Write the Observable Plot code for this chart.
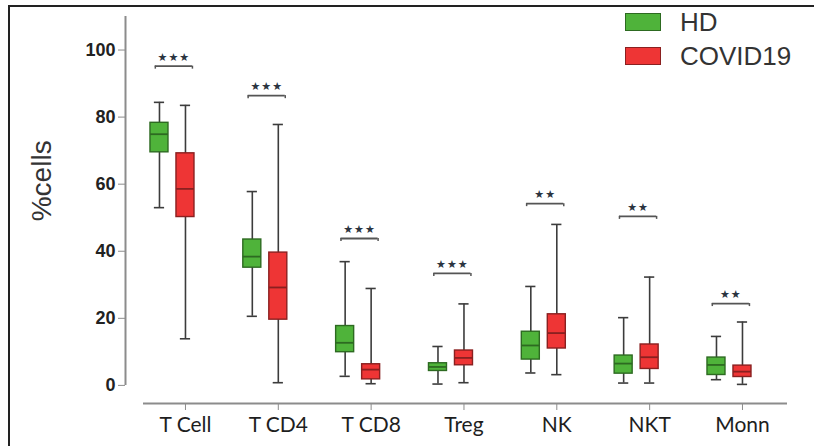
<!DOCTYPE html>
<html>
<head>
<meta charset="utf-8">
<script src="https://cdn.jsdelivr.net/npm/d3@7"></script>
<script src="https://cdn.jsdelivr.net/npm/@observablehq/plot@0.6"></script>
<style>
  html, body { margin: 0; padding: 0; background: #fff; overflow: hidden; }
  #wrap { position: relative; width: 814px; height: 446px; }
  #frame { position: absolute; left: 8px; top: 5px; width: 830px; height: 470px;
           border-top: 2px solid #222; border-left: 2px solid #222; pointer-events: none; }
  #legend { position: absolute; left: 625px; top: 5px; font-family: "Liberation Sans", Arial, sans-serif;
            font-size: 26px; color: #333; }
  .row { display: flex; align-items: center; height: 34px; }
  .sw { width: 34px; height: 16px; margin-right: 19px; }
</style>
</head>
<body>
<div id="wrap">
  <div id="chart"></div>
  <div id="frame"></div>
  <div id="legend"></div>
</div>
<script>
// ---- data ----
const categories = ["T Cell", "T CD4", "T CD8", "Treg", "NK", "NKT", "Monn"];
const groups = ["HD", "COVID19"];
const hdMin = [53.0, 20.6, 2.7, 0.4, 3.7, 0.7, 1.7];
const hdQ1  = [69.5, 35.1, 9.9, 4.3, 7.7, 3.5, 3.1];
const hdMed = [74.9, 38.4, 12.7, 5.5, 11.9, 6.5, 6.1];
const hdQ3  = [78.3, 43.5, 17.7, 6.6, 16.0, 8.9, 8.3];
const hdMax = [84.4, 57.8, 36.9, 11.6, 29.5, 20.2, 14.6];
const covMin = [13.9, 0.8, 0.5, 0.8, 3.2, 0.7, 0.3];
const covQ1  = [50.2, 19.6, 1.8, 6.0, 11.0, 4.9, 2.5];
const covMed = [58.6, 29.2, 4.7, 8.2, 15.6, 8.4, 4.1];
const covQ3  = [69.2, 39.6, 6.3, 10.4, 21.2, 12.2, 5.9];
const covMax = [83.5, 77.8, 28.9, 24.3, 48.0, 32.3, 18.9];
const significance = ["***", "***", "***", "***", "**", "**", "**"];
const bracketY = [95.2, 86.4, 43.8, 33.4, 54.2, 50.4, 24.4];
const yTicks = [0, 20, 40, 60, 80, 100];
const yTitle = "%cells";

// ---- styles / layout ----
const fills = {HD: "#4fb33a", COVID19: "#ee3535"};
const strokes = {HD: "#2d6a21", COVID19: "#8a2020"};
const offset = {HD: -0.28, COVID19: 0};
const halfBox = 0.097, halfCap = 0.055;
const xDomain = [-0.646, 6.485];
const yDomain = [-5.4, 110];

const rows = [];
categories.forEach((c, i) => {
  rows.push({cat: c, group: "HD", pos: i + offset.HD, min: hdMin[i], q1: hdQ1[i], med: hdMed[i], q3: hdQ3[i], max: hdMax[i]});
  rows.push({cat: c, group: "COVID19", pos: i + offset.COVID19, min: covMin[i], q1: covQ1[i], med: covMed[i], q3: covQ3[i], max: covMax[i]});
});
const sig = categories.map((c, i) => ({
  i, label: significance[i], y: bracketY[i],
  x1: i + offset.HD - 0.045, x2: i + 0.075
}));

const chart = Plot.plot({
  width: 814, height: 446,
  marginLeft: 125, marginRight: 27, marginTop: 16, marginBottom: 43,
  style: {background: "transparent"},
  x: {type: "linear", domain: xDomain, axis: null},
  y: {domain: yDomain, axis: null},
  marks: [
    // axis lines
    Plot.ruleX([xDomain[0]], {y1: 0, y2: 110, stroke: "#8c8c8c", strokeWidth: 2}),
    Plot.ruleY([yDomain[0]], {x1: -0.452, x2: xDomain[1], stroke: "#8c8c8c", strokeWidth: 2}),
    Plot.axisY({ticks: yTicks, tickSize: 7, tickPadding: 3, fontSize: 18, fontWeight: "bold",
      fontFamily: "Liberation Sans, Arial, sans-serif", stroke: "#8c8c8c", fill: "#222", label: null, tickFormat: d => d}),
    Plot.axisX({ticks: d3.range(categories.length), tickFormat: i => categories[i], tickSize: 7, tickPadding: 7,
      fontSize: 21, fontFamily: "Lato, sans-serif", stroke: "#8c8c8c", fill: "#1e1e1e", label: null}),
    // y title
    Plot.text([yTitle], {x: xDomain[0], y: 61, dx: -83, rotate: -90, text: d => d, fontSize: 28,
      fontFamily: "Liberation Sans, Arial, sans-serif", fill: "#333"}),
    // whiskers
    Plot.ruleX(rows, {x: "pos", y1: "min", y2: "max", stroke: "#3c3c3c", strokeWidth: 1.6}),
    Plot.ruleY(rows, {y: "max", x1: d => d.pos - halfCap, x2: d => d.pos + halfCap, stroke: "#3c3c3c", strokeWidth: 1.6}),
    Plot.ruleY(rows, {y: "min", x1: d => d.pos - halfCap, x2: d => d.pos + halfCap, stroke: "#3c3c3c", strokeWidth: 1.6}),
    // boxes
    Plot.rect(rows, {x1: d => d.pos - halfBox, x2: d => d.pos + halfBox, y1: "q1", y2: "q3",
      fill: d => fills[d.group], stroke: d => strokes[d.group], strokeWidth: 1.4}),
    Plot.ruleY(rows, {y: "med", x1: d => d.pos - halfBox, x2: d => d.pos + halfBox,
      stroke: d => strokes[d.group], strokeWidth: 1.8}),
    // significance brackets
    Plot.ruleY(sig, {y: "y", x1: "x1", x2: "x2", stroke: "#555", strokeWidth: 1.8}),
    Plot.ruleX(sig, {x: "x1", y1: d => d.y - 0.9, y2: "y", stroke: "#555", strokeWidth: 1.5}),
    Plot.ruleX(sig, {x: "x2", y1: d => d.y - 0.9, y2: "y", stroke: "#555", strokeWidth: 1.5}),
    Plot.text(sig, {x: d => (d.x1 + d.x2) / 2, y: "y", dy: -9, text: d => d.label.replace(/\*/g, "★"),
      fontSize: 11, fill: "#2b3440", fontFamily: "DejaVu Sans, sans-serif"})
  ]
});
chart.querySelectorAll("text").forEach(t => {
  if (/★/.test(t.textContent)) t.setAttribute("letter-spacing", "1");
});
document.getElementById("chart").appendChild(chart);

// legend
const legend = document.getElementById("legend");
groups.forEach(g => {
  const row = document.createElement("div");
  row.className = "row";
  const sw = document.createElement("div");
  sw.className = "sw";
  sw.style.background = fills[g];
  sw.style.border = "1px solid " + strokes[g];
  row.appendChild(sw);
  const lab = document.createElement("span");
  lab.textContent = g;
  row.appendChild(lab);
  legend.appendChild(row);
});
</script>
</body>
</html>
